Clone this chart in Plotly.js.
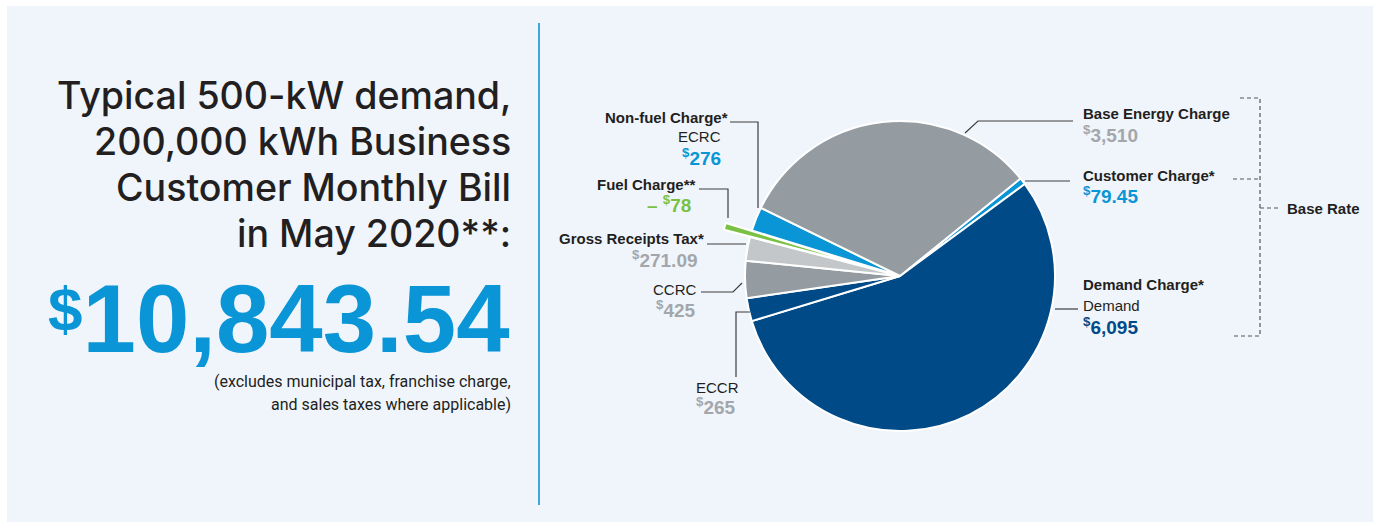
<!DOCTYPE html>
<html>
<head>
<meta charset="utf-8">
<script src="https://cdn.plot.ly/plotly-3.0.1.min.js"></script>
<style>html,body{margin:0;padding:0;background:#fff;}#chart{width:1380px;height:529px;}</style>
</head>
<body>
<div id="chart"></div>
<script>
// ---- data ----
const categories = ['Customer Charge', 'Demand Charge', 'ECCR', 'CCRC', 'Gross Receipts Tax', 'Fuel Charge', 'ECRC', 'Base Energy Charge'];
const charges = [79.45, 6095, 265, 425, 271.09, -78, 276, 3510];
const titleLines = ['Typical 500-kW demand,', '200,000 kWh Business', 'Customer Monthly Bill', 'in May 2020**:'];
const noteLines = ['(excludes municipal tax, franchise charge,', 'and sales taxes where applicable)'];
const headings = {
  'Base Energy Charge': 'Base Energy Charge',
  'Customer Charge': 'Customer Charge*',
  'Demand Charge': 'Demand Charge*',
  'ECRC': 'Non-fuel Charge*',
  'Fuel Charge': 'Fuel Charge**',
  'Gross Receipts Tax': 'Gross Receipts Tax*'
};
const subLabels = {'Demand Charge': 'Demand', 'ECRC': 'ECRC', 'CCRC': 'CCRC', 'ECCR': 'ECCR'};
const groupLabel = 'Base Rate';

// ---- styles ----
const W = 1380, H = 529;
const DARK = '#231f20', BLUE = '#0a95d6', NAVY = '#004b87', GRAY = '#959ca1', LGRAY = '#c3c7ca', GREEN = '#7ac143', VGRAY = '#a3a7ab';
const sliceColor = {'Customer Charge': BLUE, 'Demand Charge': NAVY, 'ECCR': NAVY, 'CCRC': GRAY, 'Gross Receipts Tax': LGRAY, 'Fuel Charge': GREEN, 'ECRC': BLUE, 'Base Energy Charge': GRAY};
const valueColor = {'Customer Charge': BLUE, 'Demand Charge': NAVY, 'ECCR': VGRAY, 'CCRC': VGRAY, 'Gross Receipts Tax': VGRAY, 'Fuel Charge': GREEN, 'ECRC': BLUE, 'Base Energy Charge': VGRAY};
const FONT = 'Liberation Sans, Arial, sans-serif';

function X(p) { return p / W; }
function Y(p) { return 1 - p / H; }
function fmt(v) {
  const a = Math.abs(v);
  const s = Number.isInteger(a) ? String(a) : a.toFixed(2);
  const parts = s.split('.');
  parts[0] = parts[0].replace(/\B(?=(\d{3})+(?!\d))/g, ',');
  return parts.join('.');
}

// pie geometry
const cx = 900, cy = 276, r = 155, pullAmt = 0.175;
const half = r * (1 + pullAmt);

const trace = {
  type: 'pie',
  labels: categories,
  values: charges.map(Math.abs),
  sort: false,
  direction: 'clockwise',
  rotation: 51,
  textinfo: 'none',
  hoverinfo: 'none',
  pull: categories.map(c => c === 'Fuel Charge' ? pullAmt : 0),
  marker: {colors: categories.map(c => sliceColor[c]), line: {color: '#ffffff', width: 2}},
  domain: {x: [X(cx - half), X(cx + half)], y: [Y(cy + half), Y(cy - half)]},
  showlegend: false
};

const anns = [];
function ann(text, x, y, xa, size, color, family, weight) {
  const f = {family: family || FONT, size: size, color: color};
  if (weight) f.weight = weight;
  anns.push({text: text, x: X(x), y: Y(y), xref: 'paper', yref: 'paper', xanchor: xa, yanchor: 'middle',
    showarrow: false, align: xa, font: f});
}

// left panel
const TFONT = 'Inter, Liberation Sans, Arial, sans-serif';
const tY = [96, 141.5, 187.5, 233.5];
titleLines.forEach((t, i) => ann(t, 513, tY[i], 'right', 37.6, DARK, TFONT, 500));
const total = charges.reduce((a, b) => a + b, 0);
ann('<span style="font-size:62px;baseline-shift:22px">$</span>' + fmt(Number(total.toFixed(2))), 512, 318, 'right', 96, BLUE, FONT, 'bold');
const NFONT = 'Roboto, Liberation Sans, Arial, sans-serif';
ann(noteLines[0], 513, 381, 'right', 16, DARK, NFONT);
ann(noteLines[1], 513, 404, 'right', 16, DARK, NFONT);

function val(c) {
  const v = charges[categories.indexOf(c)];
  return '<b>' + (v < 0 ? '– ' : '') + '<sup>$</sup>' + fmt(v) + '</b>';
}
// right labels
ann('<b>' + headings['Base Energy Charge'] + '</b>', 1081, 113.5, 'left', 15, DARK);
ann(val('Base Energy Charge'), 1081, 134, 'left', 19, valueColor['Base Energy Charge']);
ann('<b>' + headings['Customer Charge'] + '</b>', 1081, 175, 'left', 15, DARK);
ann(val('Customer Charge'), 1081, 195, 'left', 19, valueColor['Customer Charge']);
ann('<b>' + headings['Demand Charge'] + '</b>', 1081, 284.5, 'left', 15, DARK);
ann(subLabels['Demand Charge'], 1081, 305, 'left', 15, DARK);
ann(val('Demand Charge'), 1081, 325.5, 'left', 19, valueColor['Demand Charge']);
ann('<b>' + groupLabel + '</b>', 1285, 208.5, 'left', 15, DARK);
// left labels
ann('<b>' + headings['ECRC'] + '</b>', 730, 117, 'right', 15, DARK);
ann(subLabels['ECRC'], 723, 136.5, 'right', 15, DARK);
ann(val('ECRC'), 723, 157, 'right', 19, valueColor['ECRC']);
ann('<b>' + headings['Fuel Charge'] + '</b>', 698, 184, 'right', 15, DARK);
ann(val('Fuel Charge'), 693, 204, 'right', 19, valueColor['Fuel Charge']);
ann('<b>' + headings['Gross Receipts Tax'] + '</b>', 706, 238.5, 'right', 15, DARK);
ann(val('Gross Receipts Tax'), 700, 259, 'right', 19, valueColor['Gross Receipts Tax']);
ann(subLabels['CCRC'], 698, 289, 'right', 15, DARK);
ann(val('CCRC'), 698, 308.5, 'right', 19, valueColor['CCRC']);
ann(subLabels['ECCR'], 694, 387, 'left', 15, DARK);
ann(val('ECCR'), 694, 405.5, 'left', 19, valueColor['ECCR']);

function path(pts) { return pts.map((p, i) => (i ? 'L' : 'M') + X(p[0]) + ',' + Y(p[1])).join(' '); }
const LEAD = {color: '#3c3c3c', width: 1.2};
const DASH = {color: '#555555', width: 1.2, dash: '4px,3px'};
const shapes = [
  {type: 'rect', xref: 'paper', yref: 'paper', x0: X(7), x1: X(1373), y0: Y(522), y1: Y(6), fillcolor: '#f0f5fc', line: {width: 0}, layer: 'below'},
  {type: 'line', xref: 'paper', yref: 'paper', x0: X(539), x1: X(539), y0: Y(23), y1: Y(505), line: {color: '#3fa9dd', width: 2}},
];
const leaders = [
  [[965, 133], [978, 121], [1073, 121]],
  [[1025, 181], [1070, 181]],
  [[1055, 309], [1078, 309]],
  [[730, 122], [758, 122], [758, 208]],
  [[699, 189], [728, 189], [728, 218]],
  [[707, 244], [746, 244]],
  [[701, 292], [733, 292], [742, 283]],
  [[736, 377], [736, 312], [750, 312]]
];
leaders.forEach(p => shapes.push({type: 'path', xref: 'paper', yref: 'paper', path: path(p), line: LEAD}));
const brackets = [
  [[1240, 98], [1260, 98], [1260, 336], [1232, 336]],
  [[1233, 179], [1260, 179]],
  [[1260, 208], [1278, 208]]
];
brackets.forEach(p => shapes.push({type: 'path', xref: 'paper', yref: 'paper', path: path(p), line: DASH}));

const layout = {
  width: W, height: H,
  margin: {l: 0, r: 0, t: 0, b: 0},
  paper_bgcolor: '#ffffff',
  plot_bgcolor: 'rgba(0,0,0,0)',
  showlegend: false,
  annotations: anns,
  shapes: shapes
};
Plotly.newPlot('chart', [trace], layout, {displayModeBar: false, staticPlot: true});
</script>
</body>
</html>
